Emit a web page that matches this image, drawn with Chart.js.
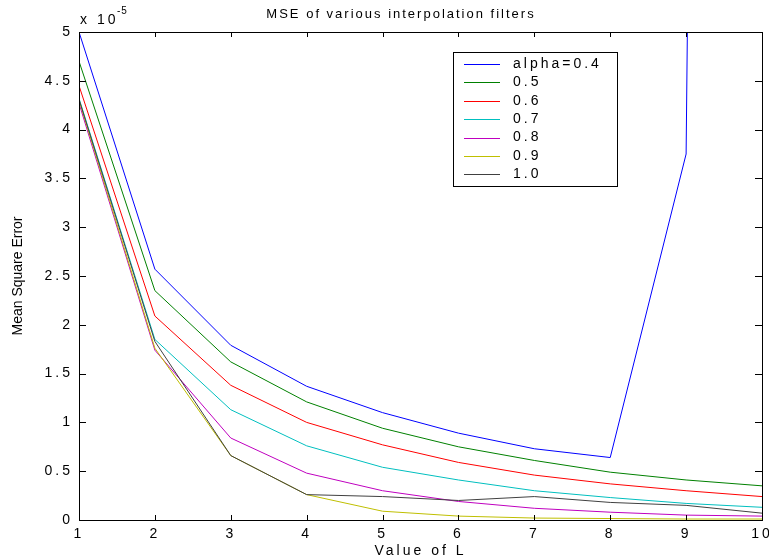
<!DOCTYPE html>
<html lang="en">
<head>
  <meta charset="UTF-8">
  <title>MSE of various interpolation filters</title>
  <script src="https://cdn.jsdelivr.net/npm/chart.js"></script>
  <style>
    body {
      margin: 0;
      background: #fff;
    }
    canvas {
      display: block;
    }
  </style>
</head>
<body>

  <canvas id="mseChart" width="769" height="560"></canvas>

  <script>
    // values are in units of 1e-5 (the axis shows "x 10^-5")
    const L_VALUES = [1, 2, 3, 4, 5, 6, 7, 8, 9, 10];
    const ALPHA_LABELS = ['alpha=0.4', '0.5', '0.6', '0.7', '0.8', '0.9', '1.0'];
    const ALPHA_COLORS = ['#0000ff', '#008000', '#ff0000', '#00bfbf', '#bf00bf', '#bfbf00', '#404040'];

    const mse04 = [5.00, 2.57, 1.79, 1.37, 1.10, 0.89, 0.73, 0.64, 3.75, 80];
    const mse05 = [4.70, 2.35, 1.62, 1.21, 0.94, 0.75, 0.61, 0.49, 0.41, 0.35];
    const mse06 = [4.45, 2.09, 1.38, 1.00, 0.77, 0.59, 0.46, 0.37, 0.30, 0.24];
    const mse07 = [4.32, 1.85, 1.13, 0.76, 0.54, 0.41, 0.30, 0.23, 0.17, 0.13];
    const mse08 = [4.27, 1.74, 0.84, 0.48, 0.30, 0.19, 0.12, 0.08, 0.05, 0.04];
    const mse09 = [4.30, 1.76, 0.66, 0.26, 0.09, 0.04, 0.02, 0.015, 0.01, 0.01];
    const mse10 = [4.31, 1.83, 0.66, 0.26, 0.24, 0.20, 0.24, 0.18, 0.15, 0.07];

    const allSeries = [mse04, mse05, mse06, mse07, mse08, mse09, mse10];

    const TITLE = 'MSE of various interpolation filters';
    const Y_TITLE = 'Mean Square Error';
    const FONT = 'Liberation Sans, Arial, Helvetica, sans-serif';

    const datasets = allSeries.map((vals, i) => ({
      label: ALPHA_LABELS[i],
      data: vals.map((v, j) => ({ x: L_VALUES[j], y: v })),
      borderColor: ALPHA_COLORS[i],
      backgroundColor: ALPHA_COLORS[i],
      borderWidth: 1,
      pointRadius: 0,
      tension: 0,
      fill: false,
      order: allSeries.length - i // later series drawn on top
    }));

    // box, inward ticks, title, scale note, y title and legend, MATLAB style
    const matlabLook = {
      id: 'matlabLook',
      beforeDraw(chart) {
        chart.ctx.letterSpacing = '3px';
      },
      afterDraw(chart) {
        const ctx = chart.ctx;
        const a = chart.chartArea;
        const xs = chart.scales.x;
        const ys = chart.scales.y;
        ctx.save();
        ctx.letterSpacing = '0px';
        ctx.strokeStyle = '#000';
        ctx.lineWidth = 1;
        ctx.strokeRect(Math.round(a.left) + 0.5, Math.round(a.top) + 0.5,
          Math.round(a.right - a.left), Math.round(a.bottom - a.top));

        ctx.beginPath();
        xs.ticks.forEach(t => {
          const px = Math.round(xs.getPixelForValue(t.value)) + 0.5;
          ctx.moveTo(px, a.bottom); ctx.lineTo(px, a.bottom - 5);
          ctx.moveTo(px, a.top); ctx.lineTo(px, a.top + 5);
        });
        ys.ticks.forEach(t => {
          const py = Math.round(ys.getPixelForValue(t.value)) + 0.5;
          ctx.moveTo(a.left, py); ctx.lineTo(a.left + 7, py);
          ctx.moveTo(a.right, py); ctx.lineTo(a.right - 7, py);
        });
        ctx.stroke();

        ctx.fillStyle = '#000';
        ctx.textBaseline = 'middle';

        // title
        ctx.textAlign = 'center';
        ctx.letterSpacing = '2px';
        ctx.font = '13px ' + FONT;
        ctx.fillText(TITLE, 401, 14);

        // exponent note
        ctx.textAlign = 'left';
        ctx.letterSpacing = '3px';
        ctx.font = '14px ' + FONT;
        ctx.fillText('x 10', a.left + 1, a.top - 12);
        ctx.letterSpacing = '1px';
        ctx.font = '10px ' + FONT;
        ctx.fillText('-5', a.left + 38, a.top - 21);

        // y title
        ctx.letterSpacing = '0px';
        ctx.font = '14px ' + FONT;
        ctx.save();
        ctx.translate(18, (a.top + a.bottom) / 2);
        ctx.rotate(-Math.PI / 2);
        ctx.textAlign = 'center';
        ctx.fillText(Y_TITLE, 0, 0);
        ctx.restore();

        // legend
        const lx = 453, ly = 52, lw = 164, lh = 134, rowH = 18.4;
        ctx.fillStyle = '#fff';
        ctx.fillRect(lx, ly, lw, lh);
        ctx.strokeStyle = '#000';
        ctx.strokeRect(lx + 0.5, ly + 0.5, lw, lh);
        ctx.letterSpacing = '3px';
        ctx.font = '14px ' + FONT;
        chart.data.datasets.forEach((ds, i) => {
          const yy = ly + 12 + i * rowH;
          ctx.fillStyle = ds.borderColor;
          ctx.fillRect(lx + 11, Math.round(yy), 36, 1);
          ctx.fillStyle = '#000';
          ctx.textAlign = 'left';
          ctx.fillText(ds.label, lx + 60, yy);
        });
        ctx.restore();
        ctx.letterSpacing = '0px';
      }
    };

    const ctx = document.getElementById('mseChart').getContext('2d');
    new Chart(ctx, {
      type: 'line',
      data: { datasets: datasets },
      plugins: [matlabLook],
      options: {
        responsive: false,
        animation: false,
        layout: { padding: { left: 0, right: 7, top: 32, bottom: 0 } },
        plugins: {
          legend: { display: false },
          tooltip: { enabled: false },
          title: { display: false }
        },
        scales: {
          x: {
            type: 'linear',
            min: 1,
            max: 10,
            grid: { display: false, drawTicks: false },
            border: { display: false },
            ticks: {
              stepSize: 1,
              color: '#000',
              padding: 6,
              maxRotation: 0,
              font: { family: FONT, size: 14 }
            },
            title: {
              display: true,
              text: 'Value of L',
              color: '#000',
              font: { family: FONT, size: 14 },
              padding: { top: 0, bottom: 0 }
            },
            afterFit(scale) {
              scale.height = 40;
              scale.paddingLeft = 0;
              scale.paddingRight = 0;
            }
          },
          y: {
            min: 0,
            max: 5,
            grid: { display: false, drawTicks: false },
            border: { display: false },
            ticks: {
              stepSize: 0.5,
              color: '#000',
              padding: 6,
              font: { family: FONT, size: 14 },
              callback: v => (Math.round(v * 10) % 10 === 0 ? String(Math.round(v)) : v.toFixed(1))
            },
            afterFit(scale) {
              scale.width = 79;
              scale.paddingTop = 0;
              scale.paddingBottom = 0;
            }
          }
        }
      }
    });
  </script>

</body>
</html>
